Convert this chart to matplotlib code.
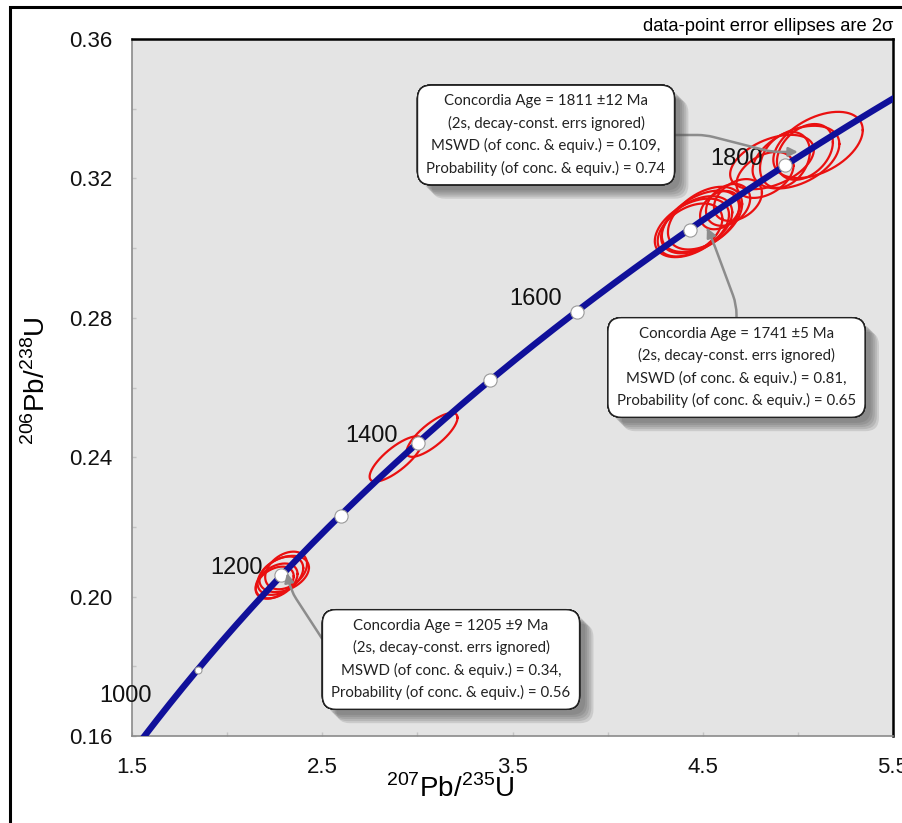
import numpy as np
import matplotlib
matplotlib.use("Agg")
import matplotlib.pyplot as plt
import matplotlib.patheffects as pe
from matplotlib.patches import Rectangle

plt.rcParams['font.family'] = ['Liberation Sans', 'DejaVu Sans']
plt.rcParams['mathtext.fontset'] = 'custom'
plt.rcParams['mathtext.rm'] = 'Liberation Sans'

# decay constants (1/yr)
L238 = 1.55125e-10
L235 = 9.8485e-10

# age labels along the concordia (Ma)
label_ages = [1000, 1200, 1400, 1600, 1800]

# white age/concordia-age markers
marker_x = [1.847, 2.283, 2.597, 3.003, 3.382, 3.837, 4.433, 4.932]
marker_y = [0.1790, 0.2062, 0.2232, 0.2441, 0.2622, 0.2817, 0.3052, 0.3238]
marker_size = [5, 9.5, 9.5, 9.5, 9.5, 9.5, 9.5, 9.5]

# 2-sigma error ellipses: centre, half-extents in x and y, error correlation
ell_cx = [2.26, 2.28, 2.30, 2.25, 2.31,
          2.888, 3.077,
          4.443, 4.470, 4.486, 4.433, 4.512, 4.633, 4.685, 4.591,
          5.106, 4.990, 4.864, 4.932, 5.037, 4.827]
ell_cy = [0.2045, 0.2060, 0.2065, 0.2040, 0.2075,
          0.2395, 0.2464,
          0.3058, 0.3069, 0.3075, 0.3052, 0.3086, 0.3124, 0.3138, 0.3109,
          0.3296, 0.3261, 0.3247, 0.3253, 0.3276, 0.3210]
ell_ax = [0.11, 0.12, 0.13, 0.10, 0.11,
          0.139, 0.134,
          0.195, 0.185, 0.205, 0.170, 0.195, 0.116, 0.126, 0.105,
          0.235, 0.228, 0.220, 0.131, 0.147, 0.150]
ell_ay = [0.0050, 0.0055, 0.0052, 0.0046, 0.0054,
          0.0065, 0.0063,
          0.0084, 0.0080, 0.0090, 0.0076, 0.0090, 0.0060, 0.0060, 0.0055,
          0.0095, 0.0090, 0.0078, 0.0080, 0.0080, 0.0066]
ell_rho = [0.4, 0.4, 0.35, 0.4, 0.35,
           0.78, 0.78,
           0.45, 0.42, 0.48, 0.42, 0.45, 0.30, 0.35, 0.30,
           0.45, 0.42, 0.45, 0.30, 0.35, 0.40]

box_texts = [
    "Concordia Age = 1811 \u00b112 Ma\n(2s, decay-const. errs ignored)\n"
    "MSWD (of conc. & equiv.) = 0.109,\nProbability (of conc. & equiv.) = 0.74",
    "Concordia Age = 1741 \u00b15 Ma\n(2s, decay-const. errs ignored)\n"
    "MSWD (of conc. & equiv.) = 0.81,\nProbability (of conc. & equiv.) = 0.65",
    "Concordia Age = 1205 \u00b19 Ma\n(2s, decay-const. errs ignored)\n"
    "MSWD (of conc. & equiv.) = 0.34,\nProbability (of conc. & equiv.) = 0.56",
]
box_targets = [(5.00, 0.3276), (4.522, 0.3058), (2.315, 0.2068)]


def concordia(t_ma):
    t = np.asarray(t_ma) * 1e6
    return np.exp(L235 * t) - 1, np.exp(L238 * t) - 1


def ellipse(cx, cy, ax_, ay_, rho, n=200):
    a = np.linspace(0, 2 * np.pi, n)
    x = cx + ax_ * np.cos(a)
    y = cy + ay_ * (rho * np.cos(a) + np.sqrt(1 - rho ** 2) * np.sin(a))
    return x, y


W, H = 902, 823
fig = plt.figure(figsize=(W / 100, H / 100), dpi=100)
ax = fig.add_axes([132 / W, 1 - 736 / H, (893 - 132) / W, (736 - 39) / H])
ax.set_facecolor('#e4e4e4')
ax.set_xlim(1.5, 5.5)
ax.set_ylim(0.16, 0.36)

# error ellipses
for i in range(len(ell_cx)):
    ex, ey = ellipse(ell_cx[i], ell_cy[i], ell_ax[i], ell_ay[i], ell_rho[i])
    ax.plot(ex, ey, color='#ea1010', lw=1.6, zorder=2)

# concordia curve
t = np.linspace(900, 2000, 400)
cx, cy = concordia(t)
ax.plot(cx, cy, color='#10109a', lw=4.6, solid_capstyle='butt', zorder=3)

for x, y, s in zip(marker_x, marker_y, marker_size):
    ax.plot(x, y, 'o', ms=s, mfc='white', mec='#9a9a9a', mew=0.8, zorder=4)

lx, ly = concordia(label_ages)
for age, x, y in zip(label_ages, lx, ly):
    ax.annotate(str(age), (x, y), xytext=(-10, 9), textcoords='offset points',
                ha='right', va='center', fontsize=17, color='#111111', zorder=5)

# axis styling
ax.set_xticks([1.5, 2.5, 3.5, 4.5, 5.5])
ax.set_xticks(np.arange(2.0, 5.5, 1.0), minor=True)
ax.set_yticks(np.arange(0.16, 0.3601, 0.04))
ax.set_yticks(np.arange(0.18, 0.36, 0.04), minor=True)
ax.set_yticklabels([f'{v:.2f}' for v in np.arange(0.16, 0.3601, 0.04)])
ax.tick_params(which='both', direction='in', length=3, width=1, color='#c4c4c4',
               labelsize=16, labelcolor='#111111')
ax.tick_params(axis='y', pad=14)
ax.tick_params(axis='x', pad=15)
for side in ('left', 'bottom'):
    ax.spines[side].set_color('#8a8a8a')
    ax.spines[side].set_linewidth(1.2)
for side in ('top', 'right'):
    ax.spines[side].set_color('black')
    ax.spines[side].set_linewidth(1.8)

fig.text(450 / W, 1 - 789 / H, r'$^{207}$Pb/$^{235}$U', fontsize=20,
         ha='center', va='center')
fig.text(37 / W, 1 - 381 / H, r'$^{206}$Pb/$^{238}$U', fontsize=20,
         ha='center', va='center', rotation=90)
fig.text(893 / W, 1 - 31 / H, 'data-point error ellipses are 2\u03c3', fontsize=13.2,
         ha='right', va='baseline')

# result boxes with soft drop shadows
box_pos = [(546, H - 135), (736.5, H - 367.5), (451, H - 659.5)]
arrows = [
    dict(relpos=(1.0, 0.5), connectionstyle='arc,angleA=0,angleB=180,armA=40,armB=26,rad=8'),
    dict(relpos=(0.5, 1.0), connectionstyle='arc,angleA=90,angleB=-65,armA=22,armB=12,rad=10'),
    dict(relpos=(-0.02, 0.4), connectionstyle='arc,angleA=90,angleB=-78,armA=22,armB=18,rad=10'),
]
shadow = [pe.withSimplePatchShadow(offset=(d, -d), shadow_rgbFace='0.3', alpha=0.16)
          for d in (10, 8.5, 7, 5.5, 4)]
for txt, pos, tgt, arr in zip(box_texts, box_pos, box_targets, arrows):
    an = ax.annotate(txt, tgt, xytext=pos, textcoords='figure pixels',
                     ha='center', va='center', fontsize=10.8, family=['Lato', 'DejaVu Sans'],
                     color='#222222', linespacing=1.62, zorder=6,
                     bbox=dict(boxstyle='round,pad=0.6,rounding_size=0.9',
                               fc='white', ec='#222222', lw=1.0),
                     arrowprops=dict(arrowstyle='-|>,head_length=0.5,head_width=0.25',
                                     color='#8c8c8c', lw=1.8, shrinkA=0, shrinkB=0,
                                     relpos=arr['relpos'],
                                     connectionstyle=arr['connectionstyle']))
    an.get_bbox_patch().set_path_effects(shadow + [pe.Normal()])

# outer frame
fig.patches.append(Rectangle((10 / W, -0.1), 1.2, 1 - 7 / H + 0.1, transform=fig.transFigure,
                             fill=False, ec='black', lw=2.2))

fig.savefig('out.png', dpi=100)
